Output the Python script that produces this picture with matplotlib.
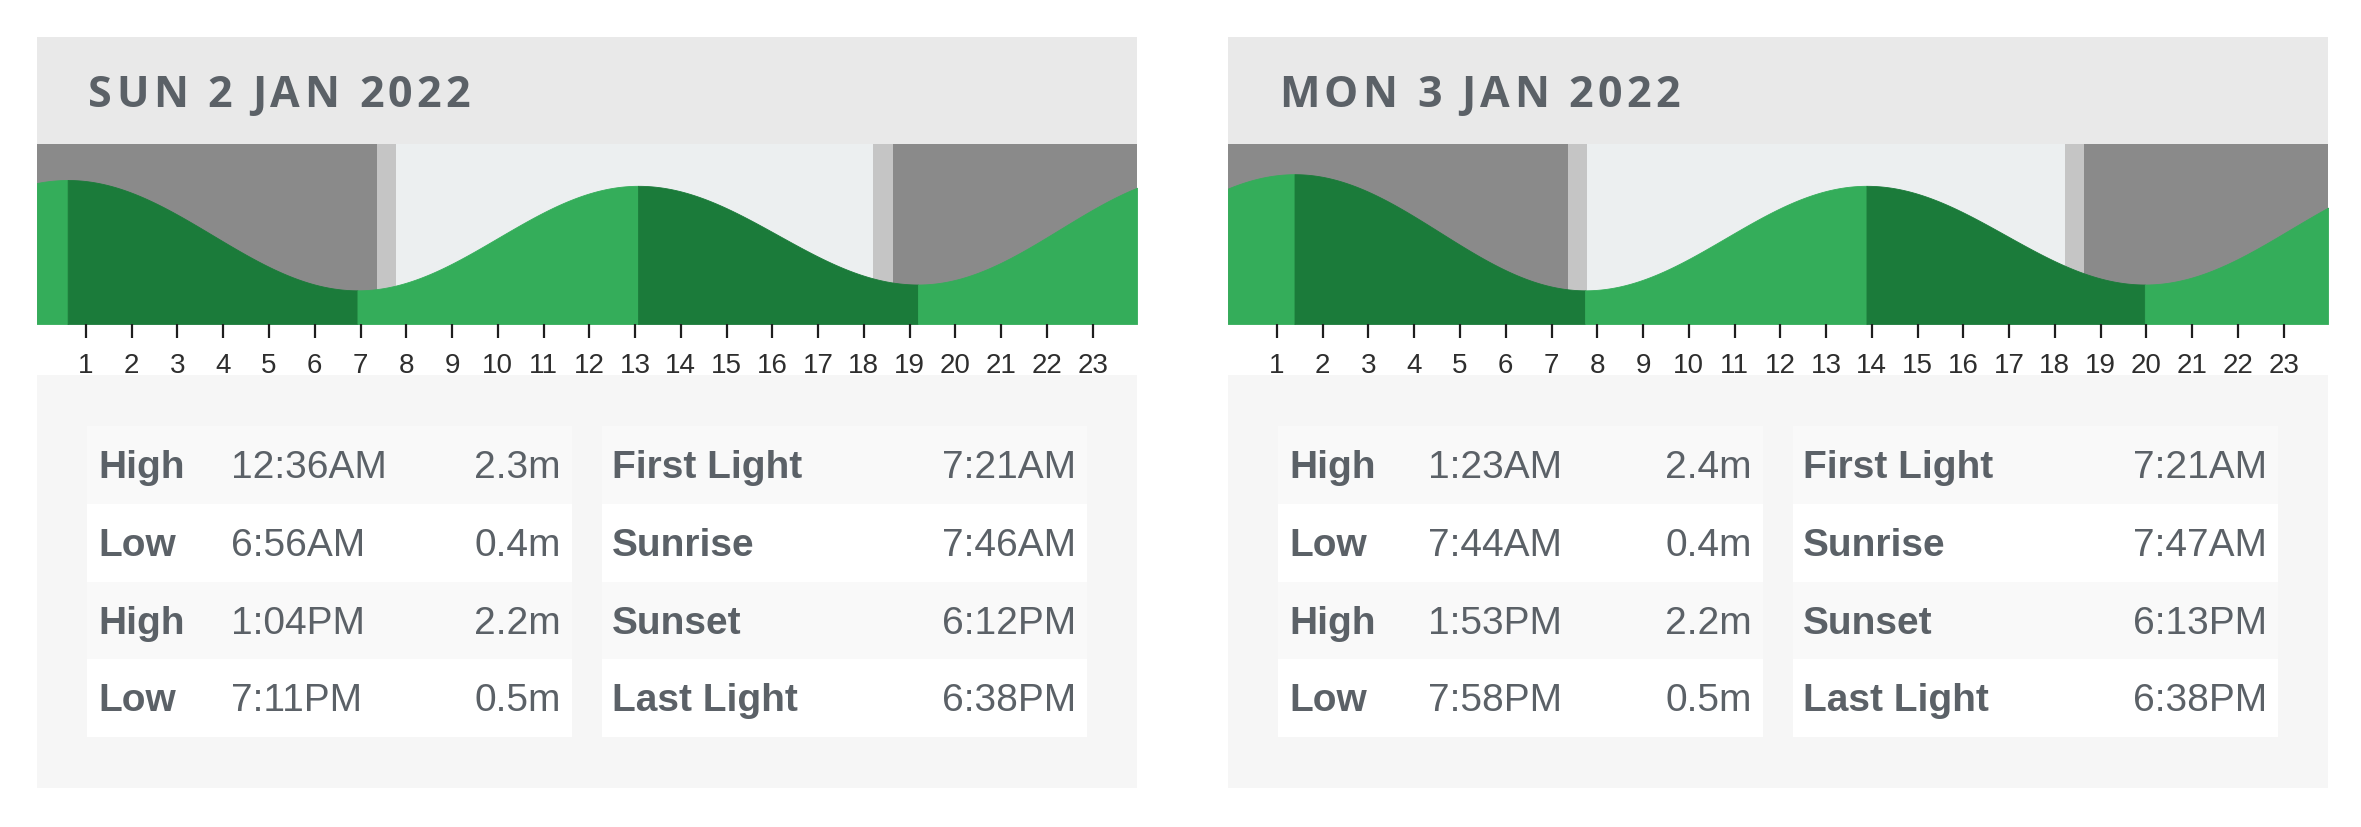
import numpy as np
import matplotlib
matplotlib.use("Agg")
import matplotlib.pyplot as plt
from matplotlib.patches import Rectangle
from matplotlib.font_manager import findfont, FontProperties
from matplotlib.ft2font import FT2Font

# ---- data -------------------------------------------------------------
day_titles = ["SUN 2 JAN 2022", "MON 3 JAN 2022"]

tide_kind = ["High", "Low", "High", "Low"]
day1_tide_time = ["12:36AM", "6:56AM", "1:04PM", "7:11PM"]
day1_tide_height = [2.3, 0.4, 2.2, 0.5]
day2_tide_time = ["1:23AM", "7:44AM", "1:53PM", "7:58PM"]
day2_tide_height = [2.4, 0.4, 2.2, 0.5]

# tides just outside the two days (estimated from the curve ends)
prev_low_time, prev_low_height = "6:24PM", 0.5     # 1 Jan
next_high_time, next_high_height = "2:20AM", 2.4   # 4 Jan

sun_labels = ["First Light", "Sunrise", "Sunset", "Last Light"]
day1_sun_time = ["7:21AM", "7:46AM", "6:12PM", "6:38PM"]
day2_sun_time = ["7:21AM", "7:47AM", "6:13PM", "6:38PM"]

hour_ticks = list(range(1, 24))

# ---- style ------------------------------------------------------------
W, H = 2361, 828
TEXT = "#5b6167"
HEADER = "#e9e9e9"
PANEL = "#f6f6f6"
ROW = ["#f9f9f9", "#ffffff", "#f9f9f9", "#ffffff"]
NIGHT, TWILIGHT, DAY = "#8a8a8a", "#c5c5c5", "#eceff0"
RISING, FALLING = "#34ad5a", "#1b7b3a"


def hours(s):
    hh, mm = s[:-2].split(":")
    h = int(hh) % 12 + int(mm) / 60
    if s.endswith("PM"):
        h += 12
    return h


def tide_curve(times, heights, t):
    # cosine between successive high / low waters
    out = np.empty_like(t)
    for i in range(len(times) - 1):
        m = (t >= times[i]) & (t <= times[i + 1])
        ph = (t[m] - times[i]) / (times[i + 1] - times[i])
        out[m] = heights[i] + (heights[i + 1] - heights[i]) * (1 - np.cos(np.pi * ph)) / 2
    return out


def spaced_text(ax, x, y, s, gap, size, **kw):
    fp = FontProperties(family="Open Sans", weight="bold", size=size)
    font = FT2Font(findfont(fp))
    font.set_size(size, 100)
    for ch in s:
        ax.text(x, y, ch, fontproperties=fp, **kw)
        x += font.load_char(ord(ch)).linearHoriAdvance / 65536 + gap


fig = plt.figure(figsize=(W / 100, H / 100), dpi=100)
fig.patch.set_facecolor("white")

overlay = fig.add_axes([0, 0, 1, 1], zorder=2)
overlay.set_xlim(0, W)
overlay.set_ylim(H, 0)
overlay.axis("off")

panels = [
    dict(x0=37, tide_t=day1_tide_time, tide_h=day1_tide_height, sun=day1_sun_time, col_off=144,
         before=(hours(prev_low_time) - 24, prev_low_height),
         after=(hours(day2_tide_time[0]) + 24, day2_tide_height[0])),
    dict(x0=1228, tide_t=day2_tide_time, tide_h=day2_tide_height, sun=day2_sun_time, col_off=150,
         before=(hours(day1_tide_time[-1]) - 24, day1_tide_height[-1]),
         after=(hours(next_high_time) + 24, next_high_height)),
]

pw = 1100
for title, p in zip(day_titles, panels):
    x0 = p["x0"]

    # header
    overlay.add_patch(Rectangle((x0, 38), pw, 107, color=HEADER, lw=0))
    spaced_text(overlay, x0 + 51, 107, title, 4.3, 31, color=TEXT, va="baseline")

    # tide chart
    ax = fig.add_axes([x0 / W, 1 - 325 / H, pw / W, 180 / H], zorder=1)
    xmin, xmax, ymin, ymax = -0.07, 23.97, -0.18, 2.92
    ax.set_xlim(xmin, xmax)
    ax.set_ylim(ymin, ymax)
    st = [hours(s) for s in p["sun"]]
    ax.axvspan(xmin, st[0], color=NIGHT, lw=0)
    ax.axvspan(st[0], st[1], color=TWILIGHT, lw=0)
    ax.axvspan(st[1], st[2], color=DAY, lw=0)
    ax.axvspan(st[2], st[3], color=TWILIGHT, lw=0)
    ax.axvspan(st[3], xmax, color=NIGHT, lw=0)

    times = [p["before"][0]] + [hours(s) for s in p["tide_t"]] + [p["after"][0]]
    heights = [p["before"][1]] + list(p["tide_h"]) + [p["after"][1]]
    for i in range(len(times) - 1):
        a, b = max(times[i], xmin), min(times[i + 1], xmax)
        if a >= b:
            continue
        tt = np.linspace(a, b, 300)
        hh = tide_curve(times, heights, tt)
        c = FALLING if heights[i + 1] < heights[i] else RISING
        ax.fill_between(tt, ymin, hh, color=c, lw=0.6, ec=c)

    for s in ax.spines.values():
        s.set_visible(False)
    ax.set_yticks([])
    ax.set_xticks(hour_ticks)
    ax.set_xticklabels([str(h) for h in hour_ticks], family="Liberation Sans", fontsize=20)
    ax.tick_params(axis="x", direction="out", length=10, width=1.6, pad=10,
                   color="#1e1e1e", labelcolor="#2e2e2e")

    # tables
    overlay.add_patch(Rectangle((x0, 376), pw, 413, color=PANEL, lw=0))
    lx, rx, cw, top, rh = x0 + 50, x0 + 565, 485, 427, 77.8
    for k in range(4):
        y = top + k * rh
        overlay.add_patch(Rectangle((lx, y), cw, rh, color=ROW[k], lw=0))
        overlay.add_patch(Rectangle((rx, y), cw, rh, color=ROW[k], lw=0))
        yb = y + 51
        kw = dict(color=TEXT, family="Liberation Sans", fontsize=28, va="baseline")
        overlay.text(lx + 11, yb, tide_kind[k], weight="bold", **kw)
        overlay.text(lx + p["col_off"], yb, p["tide_t"][k], **kw)
        overlay.text(lx + cw - 11, yb, f"{p['tide_h'][k]:.1f}m", ha="right", **kw)
        overlay.text(rx + 10, yb, sun_labels[k], weight="bold", **kw)
        overlay.text(rx + cw - 11, yb, p["sun"][k], ha="right", **kw)

fig.savefig("out.png", dpi=100, facecolor="white")
